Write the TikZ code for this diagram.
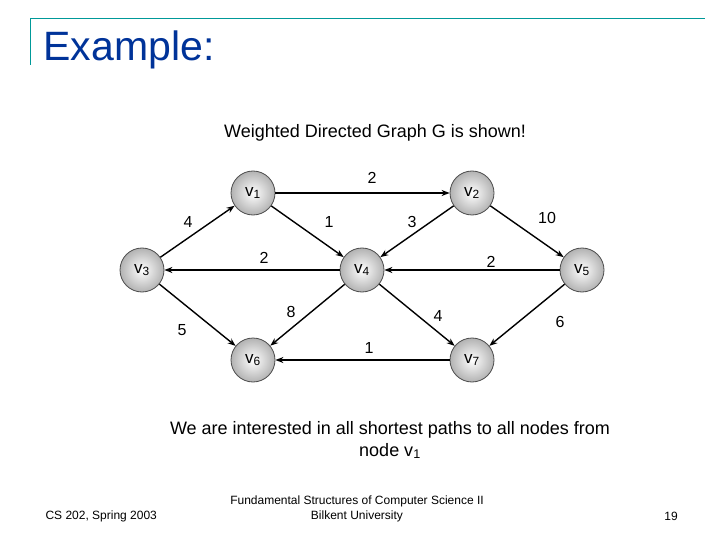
\documentclass[tikz,border=0pt]{standalone}
\usepackage{fontspec}
\setmainfont{Liberation Sans}
\usetikzlibrary{arrows.meta}
\definecolor{slideblue}{RGB}{0,51,153}
\definecolor{slideteal}{RGB}{0,153,153}
\begin{document}
\begin{tikzpicture}[x=1pt,y=-1pt]
\tikzstyle{vertex}=[circle,draw=black!70,thick,shading=radial,inner color=white,outer color=black!30,minimum size=44pt,inner sep=0pt,font=\fontsize{17}{17}\selectfont]
\tikzstyle{wt}=[font=\fontsize{16}{16}\selectfont]
\tikzstyle{every edge}=[draw,line width=1.4pt,-{Stealth[length=8pt]}]
\useasboundingbox (0,0) rectangle (720,540);
\draw[slideteal,thick] (30,65) -- (30,18) -- (705,18);
\node[anchor=west,text=slideblue,font=\fontsize{41}{41}\selectfont] (title) at (40,50) {Example:};
\node[font=\fontsize{18}{18}\selectfont] (caption) at (375,133) {Weighted Directed Graph G is shown!};
% vertices
\node[vertex] (v1) at (253,193) {v\textsubscript{1}};
\node[vertex] (v2) at (472,193) {v\textsubscript{2}};
\node[vertex] (v3) at (142,270) {v\textsubscript{3}};
\node[vertex] (v4) at (362,270) {v\textsubscript{4}};
\node[vertex] (v5) at (582,270) {v\textsubscript{5}};
\node[vertex] (v6) at (253,360) {v\textsubscript{6}};
\node[vertex] (v7) at (472,360) {v\textsubscript{7}};
% edges
\path (v1) edge (v2)
      (v3) edge (v1)
      (v1) edge (v4)
      (v2) edge (v4)
      (v2) edge (v5)
      (v4) edge (v3)
      (v5) edge (v4)
      (v3) edge (v6)
      (v4) edge (v6)
      (v4) edge (v7)
      (v5) edge (v7)
      (v7) edge (v6);
% weights
\node[wt] (w12) at (372,178) {2};
\node[wt] (w31) at (188,222) {4};
\node[wt] (w14) at (329,222) {1};
\node[wt] (w24) at (412,222) {3};
\node[wt] (w25) at (547,218) {10};
\node[wt] (w43) at (264,258) {2};
\node[wt] (w54) at (491,262) {2};
\node[wt] (w36) at (182,330) {5};
\node[wt] (w46) at (291,312) {8};
\node[wt] (w47) at (438,316) {4};
\node[wt] (w57) at (560,322) {6};
\node[wt] (w76) at (369,348) {1};
% bottom text
\node[font=\fontsize{18}{22}\selectfont,align=center] (note) at (390,440) {We are interested in all shortest paths to all nodes from\\node v\textsubscript{1}};
\node[anchor=west,font=\fontsize{12}{12}\selectfont] (course) at (42,516) {CS 202, Spring 2003};
\node[font=\fontsize{12}{15}\selectfont,align=center] (book) at (357,509) {Fundamental Structures of Computer Science II\\Bilkent University};
\node[font=\fontsize{12}{12}\selectfont] (page) at (671,516) {19};
\end{tikzpicture}
\end{document}
